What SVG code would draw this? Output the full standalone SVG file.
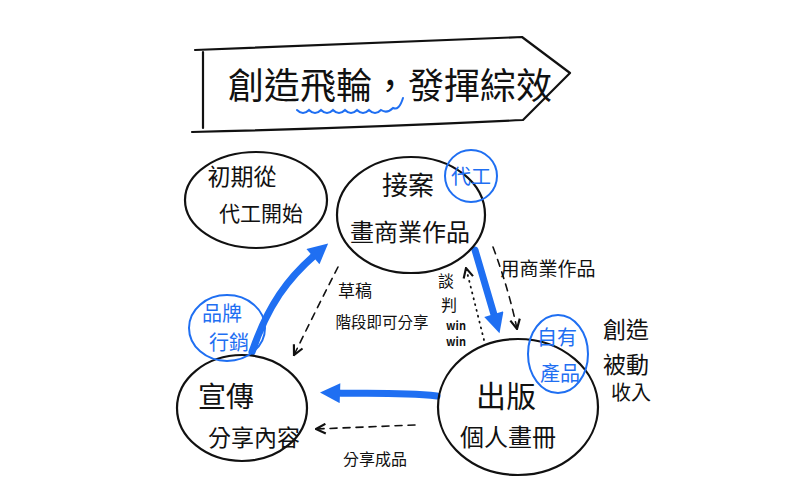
<svg xmlns="http://www.w3.org/2000/svg" width="800" height="495" viewBox="0 0 800 495">
<defs>
<style>
.ink{fill:none;stroke:#111;stroke-width:2.2;stroke-linecap:round;stroke-linejoin:round}
.blue{fill:none;stroke:#1f6ff2;stroke-width:2;stroke-linecap:round}
.t{font-family:"Noto Sans CJK TC","Noto Sans CJK SC",sans-serif;fill:#111;text-anchor:middle}
.tb{font-family:"Noto Sans CJK TC","Noto Sans CJK SC",sans-serif;fill:#1f6ff2;text-anchor:middle}
.thick{fill:none;stroke:#1f6ff2;stroke-width:7;stroke-linecap:round}
.dash{fill:none;stroke:#111;stroke-width:1.6;stroke-dasharray:7,6;stroke-linecap:round}
.dot{fill:none;stroke:#111;stroke-width:1.8;stroke-dasharray:1,5;stroke-linecap:round}
</style>
<marker id="bh" viewBox="0 0 10 10" refX="2" refY="5" markerWidth="22" markerHeight="20" markerUnits="userSpaceOnUse" orient="auto">
<path d="M0,0 L10,5 L0,10 z" fill="#1f6ff2"/>
</marker>
<marker id="oh" viewBox="0 0 10 10" refX="9" refY="5" markerWidth="12" markerHeight="12" markerUnits="userSpaceOnUse" orient="auto">
<path d="M1,1 L9,5 L1,9" fill="none" stroke="#111" stroke-width="1.8"/>
</marker>
</defs>
<rect width="800" height="495" fill="#fff"/>
<g id="title">
<path class="ink" d="M203,52 L203,128"/>
<path class="ink" d="M195,50 Q360,43 522,37 L570,73 L523,120 Q360,128 192,132"/>
<text class="t" x="390" y="99" font-size="36">創造飛輪，發揮綜效</text>
<path class="blue" d="M297,110 q6,6 12,0 q6,6 12,0 q6,6 12,0 q6,6 12,0 q6,6 12,0 q6,6 12,0 q6,6 12,0 q6,4 12,-2 q6,3 10,-10"/>
</g>
<g id="connectors">
<path class="thick" d="M252,352 C268,305 288,278 316,254" marker-end="url(#bh)"/>
<path class="thick" d="M475,250 L495,318" marker-end="url(#bh)"/>
<path class="thick" d="M437,396 C400,392 365,394 336,393" marker-end="url(#bh)"/>
<path class="dash" d="M338,267 Q316,310 294,355" marker-end="url(#oh)"/>
<path class="dot" d="M484,340 L466,268" marker-end="url(#oh)"/>
<path class="dash" d="M493,247 Q509,290 517,329" marker-end="url(#oh)"/>
<path class="dash" d="M415,425 L316,429" marker-end="url(#oh)"/>
<text class="t" x="355" y="297" font-size="17">草稿</text>
<text class="t" x="382" y="328" font-size="15.5">階段即可分享</text>
<text class="t" x="446" y="287" font-size="16">談</text>
<text class="t" x="449" y="311" font-size="16">判</text>
<text class="t" x="456" y="330" font-size="11" font-weight="bold">win</text>
<text class="t" x="456" y="346" font-size="11" font-weight="bold">win</text>
<text class="t" x="548" y="276" font-size="19">用商業作品</text>
<text class="t" x="375" y="465" font-size="16">分享成品</text>
</g>
<g id="node-start">
<ellipse class="ink" cx="256" cy="200" rx="71" ry="48"/>
<text class="t" x="242" y="185" font-size="23">初期從</text>
<text class="t" x="261" y="221" font-size="21">代工開始</text>
</g>
<g id="node-commission">
<ellipse class="ink" cx="411" cy="215" rx="74" ry="58"/>
<text class="t" x="408" y="195" font-size="26">接案</text>
<text class="t" x="410" y="241" font-size="24">畫商業作品</text>
<ellipse class="blue" cx="471" cy="176" rx="26" ry="26"/>
<text class="tb" x="471" y="184" font-size="20">代工</text>
</g>
<g id="node-share">
<ellipse class="ink" cx="242" cy="408" rx="65" ry="53"/>
<text class="t" x="226" y="407" font-size="28">宣傳</text>
<text class="t" x="254" y="446" font-size="23">分享內容</text>
<ellipse class="blue" cx="227" cy="328" rx="38" ry="33"/>
<text class="tb" x="222" y="321" font-size="20">品牌</text>
<text class="tb" x="229" y="350" font-size="20">行銷</text>
</g>
<g id="node-publish">
<ellipse class="ink" cx="518" cy="407" rx="80" ry="68"/>
<text class="t" x="506" y="407" font-size="30">出版</text>
<text class="t" x="508" y="446" font-size="24">個人畫冊</text>
<ellipse class="blue" cx="558" cy="354" rx="30" ry="39"/>
<text class="tb" x="557" y="345" font-size="20">自有</text>
<text class="tb" x="560" y="381" font-size="20">產品</text>
</g>
<g id="side-note">
<text class="t" x="626" y="338" font-size="23">創造</text>
<text class="t" x="626" y="373" font-size="23">被動</text>
<text class="t" x="631" y="400" font-size="20">收入</text>
</g>
</svg>
